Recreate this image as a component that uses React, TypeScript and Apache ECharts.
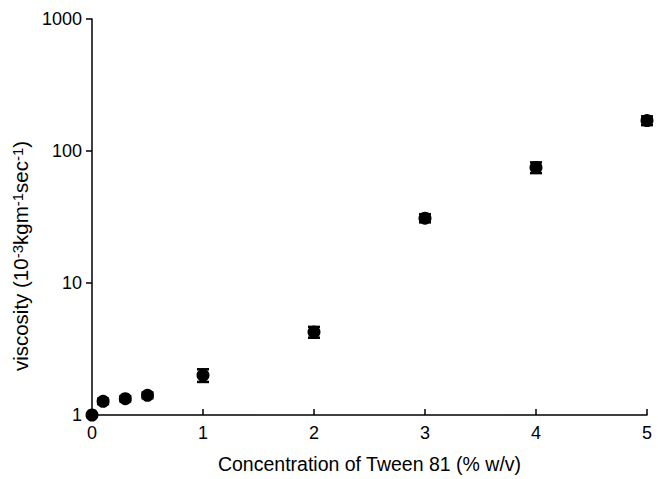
import React, { useEffect, useRef } from "react";
import * as echarts from "echarts";

const concentrations = [0, 0.1, 0.3, 0.5, 1, 2, 3, 4, 5];
const viscosity = [1.0, 1.27, 1.33, 1.41, 2.0, 4.25, 31, 75, 170];
const errors = [0, 0.06, 0.06, 0.07, 0.22, 0.4, 2.2, 7, 13];
const yTicks = [1, 10, 100, 1000];

export default function App() {
  const ref = useRef<HTMLDivElement>(null);
  useEffect(() => {
    const chart = echarts.init(ref.current!, null, { renderer: "svg" });
    const pts = concentrations.map((c, i) => [c, viscosity[i]]);
    const errData = concentrations
      .map((c, i) => [c, viscosity[i] - errors[i], viscosity[i] + errors[i]])
      .filter((d, i) => errors[i] > 0);
    const font = "Liberation Sans, Arial, sans-serif";
    chart.setOption({
      animation: false,
      grid: { left: 92, right: 11, top: 19, bottom: 61 },
      xAxis: {
        type: "value",
        min: 0,
        max: 5,
        interval: 1,
        name: "Concentration of Tween 81 (% w/v)",
        nameLocation: "middle",
        nameGap: 39,
        nameTextStyle: { fontFamily: font, fontSize: 19.5, color: "#000" },
        axisLine: { lineStyle: { color: "#000", width: 1.5 } },
        axisTick: { show: true, inside: true, length: 6, lineStyle: { color: "#000", width: 1.5 } },
        axisLabel: { fontFamily: font, fontSize: 18, color: "#000", margin: 9 },
        splitLine: { show: false },
      },
      yAxis: {
        type: "log",
        logBase: 10,
        min: 1,
        max: 1000,
        name: "{a|viscosity (10}{s|-3}{a|kgm}{s|-1}{a|sec}{s|-1}{a|)}",
        nameLocation: "middle",
        nameRotate: 90,
        nameGap: 42,
        nameTextStyle: {
          fontFamily: font,
          fontSize: 20.5,
          color: "#000",
          padding: [0, 78, 0, 0],
          rich: {
            a: { fontFamily: font, fontSize: 20.5, color: "#000", verticalAlign: "bottom" },
            s: { fontFamily: font, fontSize: 15, color: "#000", verticalAlign: "top" },
          },
        },
        axisLine: { show: true, lineStyle: { color: "#000", width: 1.5 } },
        axisTick: { show: true, inside: false, length: 6, lineStyle: { color: "#000", width: 1.5 } },
        minorTick: { show: false },
        axisLabel: {
          fontFamily: font,
          fontSize: 18,
          color: "#000",
          margin: 10,
          formatter: (v: number) => (yTicks.includes(Math.round(v)) ? String(Math.round(v)) : ""),
        },
        splitLine: { show: false },
      },
      series: [
        {
          type: "custom",
          clip: false,
          data: errData,
          renderItem: (params: any, api: any) => {
            const x = api.value(0);
            const lo = api.coord([x, api.value(1)]);
            const hi = api.coord([x, api.value(2)]);
            const w = 6;
            const st = { stroke: "#000", lineWidth: 2.5 };
            return {
              type: "group",
              children: [
                { type: "line", shape: { x1: lo[0], y1: lo[1], x2: hi[0], y2: hi[1] }, style: st },
                { type: "line", shape: { x1: lo[0] - w, y1: lo[1], x2: lo[0] + w, y2: lo[1] }, style: st },
                { type: "line", shape: { x1: hi[0] - w, y1: hi[1], x2: hi[0] + w, y2: hi[1] }, style: st },
              ],
            };
          },
          z: 3,
        },
        {
          type: "scatter",
          data: pts,
          symbol: "circle",
          symbolSize: 13,
          clip: false,
          itemStyle: { color: "#000", opacity: 1 },
          z: 4,
        },
      ],
    });
    return () => chart.dispose();
  }, []);
  return (
    <div
      ref={ref}
      style={{ position: "absolute", left: 0, top: 0, width: 658, height: 479 }}
    />
  );
}
